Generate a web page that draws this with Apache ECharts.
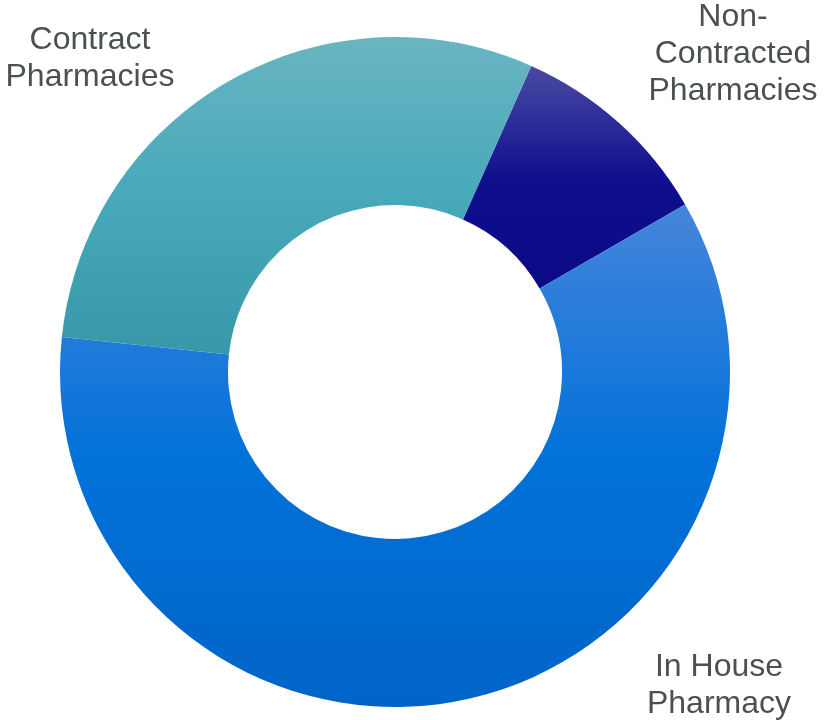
<!DOCTYPE html>
<html>
<head>
<meta charset="utf-8">
<script src="https://cdn.jsdelivr.net/npm/echarts@6/dist/echarts.min.js"></script>
<style>html,body{margin:0;padding:0;background:#fff}#c{width:826px;height:720px}</style>
</head>
<body>
<div id="c"></div>
<script>
const categories = ['Non-Contracted Pharmacies', 'In House Pharmacy', 'Contract Pharmacies'];
const labelTexts = ['Non-\nContracted\nPharmacies', 'In House\nPharmacy', 'Contract\nPharmacies'];
const values = [10, 60, 30];
const gradients = [
  ['#4a4aa2', '#10108f', '#0a0a86'],
  ['#4585da', '#0272d9', '#0064c8'],
  ['#69b4c1', '#47a9ba', '#3898aa']
];
const labelPos = [[733, 54], [719, 686], [90, 59]];

const chart = echarts.init(document.getElementById('c'));
const font = '32px "Liberation Sans", Arial, sans-serif';
chart.setOption({
  animation: false,
  series: [{
    type: 'pie',
    center: [395, 372],
    radius: [167, 335],
    startAngle: 66,
    clockwise: true,
    label: { show: false },
    labelLine: { show: false },
    itemStyle: { borderWidth: 0 },
    data: categories.map((n, i) => ({
      name: n,
      value: values[i],
      itemStyle: {
        color: new echarts.graphic.LinearGradient(0, 0, 0, 1, [
          { offset: 0, color: gradients[i][0] },
          { offset: 0.5, color: gradients[i][1] },
          { offset: 1, color: gradients[i][2] }
        ])
      }
    }))
  }],
  graphic: labelTexts.map((t, i) => ({
    type: 'text',
    x: labelPos[i][0],
    y: labelPos[i][1],
    style: {
      text: t,
      font: font,
      fill: '#4b5151',
      align: 'center',
      verticalAlign: 'middle',
      lineHeight: 37
    }
  }))
});
</script>
</body>
</html>
